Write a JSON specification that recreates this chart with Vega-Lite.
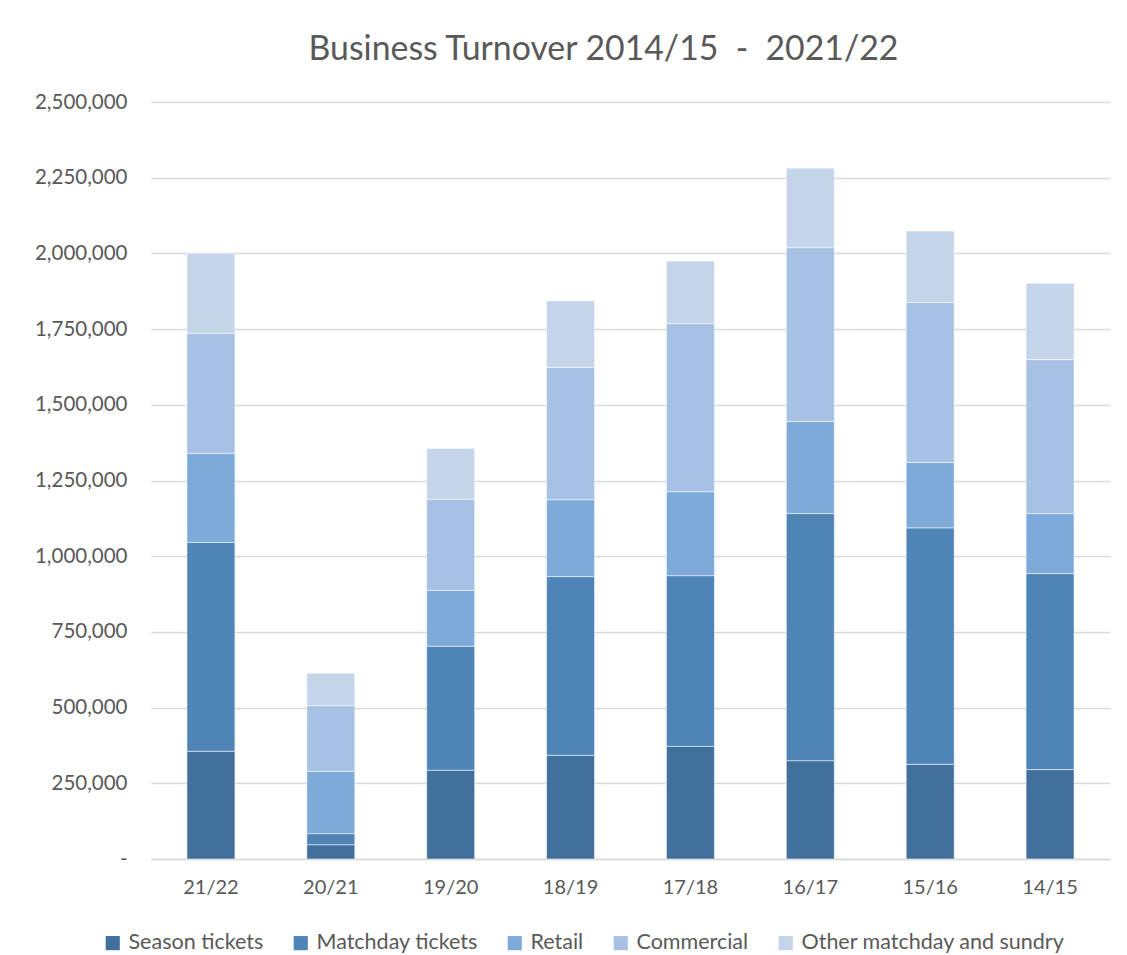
{
  "$schema": "https://vega.github.io/schema/vega-lite/v6.json",
  "width": 959,
  "height": 757,
  "autosize": "none",
  "padding": {"left": 151, "top": 102, "right": 17, "bottom": 96},
  "background": "white",
  "title": {
    "text": "Business Turnover 2014/15\u00a0\u00a0-\u00a0\u00a02021/22",
    "font": "Lato",
    "fontSize": 33.8,
    "fontWeight": "normal",
    "color": "#595959",
    "anchor": "middle",
    "frame": "group",
    "dx": -27,
    "offset": 25
  },
  "data": {
    "values": [
      {"season": "21/22", "category": "Season tickets", "k": 1, "value": 355800},
      {"season": "21/22", "category": "Matchday tickets", "k": 2, "value": 689500},
      {"season": "21/22", "category": "Retail", "k": 3, "value": 294300},
      {"season": "21/22", "category": "Commercial", "k": 4, "value": 396400},
      {"season": "21/22", "category": "Other matchday and sundry", "k": 5, "value": 264000},
      {"season": "20/21", "category": "Season tickets", "k": 1, "value": 47100},
      {"season": "20/21", "category": "Matchday tickets", "k": 2, "value": 36600},
      {"season": "20/21", "category": "Retail", "k": 3, "value": 205400},
      {"season": "20/21", "category": "Commercial", "k": 4, "value": 217200},
      {"season": "20/21", "category": "Other matchday and sundry", "k": 5, "value": 107300},
      {"season": "19/20", "category": "Season tickets", "k": 1, "value": 293000},
      {"season": "19/20", "category": "Matchday tickets", "k": 2, "value": 409500},
      {"season": "19/20", "category": "Retail", "k": 3, "value": 184500},
      {"season": "19/20", "category": "Commercial", "k": 4, "value": 300900},
      {"season": "19/20", "category": "Other matchday and sundry", "k": 5, "value": 167400},
      {"season": "18/19", "category": "Season tickets", "k": 1, "value": 342400},
      {"season": "18/19", "category": "Matchday tickets", "k": 2, "value": 590300},
      {"season": "18/19", "category": "Retail", "k": 3, "value": 253800},
      {"season": "18/19", "category": "Commercial", "k": 4, "value": 436900},
      {"season": "18/19", "category": "Other matchday and sundry", "k": 5, "value": 219900},
      {"season": "17/18", "category": "Season tickets", "k": 1, "value": 371900},
      {"season": "17/18", "category": "Matchday tickets", "k": 2, "value": 563800},
      {"season": "17/18", "category": "Retail", "k": 3, "value": 277400},
      {"season": "17/18", "category": "Commercial", "k": 4, "value": 554900},
      {"season": "17/18", "category": "Other matchday and sundry", "k": 5, "value": 206600},
      {"season": "16/17", "category": "Season tickets", "k": 1, "value": 324700},
      {"season": "16/17", "category": "Matchday tickets", "k": 2, "value": 816100},
      {"season": "16/17", "category": "Retail", "k": 3, "value": 304000},
      {"season": "16/17", "category": "Commercial", "k": 4, "value": 574100},
      {"season": "16/17", "category": "Other matchday and sundry", "k": 5, "value": 262700},
      {"season": "15/16", "category": "Season tickets", "k": 1, "value": 312800},
      {"season": "15/16", "category": "Matchday tickets", "k": 2, "value": 780800},
      {"season": "15/16", "category": "Retail", "k": 3, "value": 215700},
      {"season": "15/16", "category": "Commercial", "k": 4, "value": 528600},
      {"season": "15/16", "category": "Other matchday and sundry", "k": 5, "value": 236000},
      {"season": "14/15", "category": "Season tickets", "k": 1, "value": 295300},
      {"season": "14/15", "category": "Matchday tickets", "k": 2, "value": 647300},
      {"season": "14/15", "category": "Retail", "k": 3, "value": 198200},
      {"season": "14/15", "category": "Commercial", "k": 4, "value": 508400},
      {"season": "14/15", "category": "Other matchday and sundry", "k": 5, "value": 252100}
    ]
  },
  "mark": {"type": "bar", "stroke": "#ffffff", "strokeWidth": 1, "strokeOpacity": 0.5},
  "encoding": {
    "x": {
      "field": "season",
      "type": "nominal",
      "sort": ["21/22", "20/21", "19/20", "18/19", "17/18", "16/17", "15/16", "14/15"],
      "scale": {"paddingInner": 0.6, "paddingOuter": 0.3},
      "axis": {
        "title": null,
        "labelAngle": 0,
        "labelFont": "Lato",
        "labelFontSize": 20,
        "labelColor": "#595959",
        "labelPadding": 18,
        "ticks": false,
        "domain": true,
        "domainColor": "#D9D9D9",
        "domainWidth": 1.5,
        "grid": false
      }
    },
    "y": {
      "field": "value",
      "type": "quantitative",
      "stack": "zero",
      "scale": {"domain": [0, 2500000], "nice": false},
      "axis": {
        "title": null,
        "values": [0, 250000, 500000, 750000, 1000000, 1250000, 1500000, 1750000, 2000000, 2250000, 2500000],
        "labelExpr": "datum.value == 0 ? '-' : format(datum.value, ',')",
        "labelFont": "Lato",
        "labelFontSize": 20.5,
        "labelColor": "#595959",
        "labelPadding": 24,
        "ticks": false,
        "domain": false,
        "grid": true,
        "gridColor": "#D9D9D9",
        "gridWidth": 1.5
      }
    },
    "color": {
      "field": "category",
      "type": "nominal",
      "scale": {
        "domain": ["Season tickets", "Matchday tickets", "Retail", "Commercial", "Other matchday and sundry"],
        "range": ["#42709C", "#4E84B6", "#7DAAD9", "#A6C1E3", "#C4D5EA"]
      },
      "legend": {
        "title": null,
        "orient": "none",
        "legendX": -49,
        "legendY": 830,
        "direction": "horizontal",
        "symbolType": "square",
        "symbolSize": 200,
        "symbolStrokeWidth": 0,
        "labelFont": "Lato",
        "labelFontSize": 21.5,
        "labelColor": "#595959",
        "labelLimit": 400,
        "labelOffset": 5,
        "columnPadding": 26
      }
    },
    "order": {"field": "k", "type": "quantitative", "sort": "ascending"}
  },
  "config": {"view": {"stroke": null}}
}
